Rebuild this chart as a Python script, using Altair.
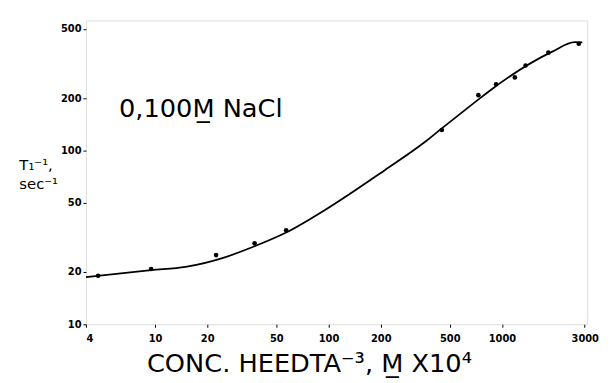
import altair as alt
import pandas as pd

# measured data points
pt_x = [4.7, 9.5, 22.5, 37.5, 57, 450, 731, 925, 1186, 1368, 1850, 2770]
pt_y = [19.0, 20.8, 25.0, 29.2, 34.7, 131, 208, 240, 263, 308, 365, 411]

# fitted curve
cv_x = [4, 9.5, 15, 25, 37.5, 57, 96, 211, 356, 450, 711, 889, 1950, 2630, 2900]
cv_y = [18.7, 20.5, 21.4, 24.2, 28.1, 33.7, 45.6, 77, 111, 134, 192, 228, 370, 420, 418]

x_ticks = [4, 10, 20, 50, 100, 200, 500, 1000, 3000]
y_ticks = [10, 20, 50, 100, 200, 500]

pts = pd.DataFrame({"x": pt_x, "y": pt_y})
crv = pd.DataFrame({"x": cv_x, "y": cv_y})

xs = alt.Scale(type="log", domain=[4, 3100], nice=False)
ys = alt.Scale(type="log", domain=[10, 560], nice=False)

FONT = "DejaVu Sans"

xenc = alt.X("x:Q", scale=xs, axis=alt.Axis(
    values=x_ticks, format="d", title="CONC. HEEDTA⁻³, M̲ X10⁴",
    titleFontSize=26, titleFontWeight="normal", titleFont=FONT, titleColor="black",
    titlePadding=8, titleX=226,
    labelFont=FONT, labelFontSize=10, labelFontWeight="bold", labelColor="black",
    tickColor="black", tickSize=3, domain=False, grid=False, labelPadding=6))
yenc = alt.Y("y:Q", scale=ys, axis=alt.Axis(
    values=y_ticks, format="d", title=["T₁⁻¹,", "sec⁻¹"], titleAngle=0,
    titleAlign="left", titleBaseline="middle", titleX=-68, titleY=146,
    titleFontSize=15, titleFontWeight="normal", titleFont=FONT, titleColor="black",
    titleLineHeight=19,
    labelFont=FONT, labelFontSize=10, labelFontWeight="bold", labelColor="black",
    tickColor="black", tickSize=3, domain=False, grid=False, labelPadding=2))

line = alt.Chart(crv).mark_line(color="black", strokeWidth=1.8, interpolate="monotone").encode(x=xenc, y=yenc)
points = alt.Chart(pts).mark_circle(color="black", size=22, opacity=1).encode(x="x:Q", y="y:Q")

label_df = pd.DataFrame({"x": [6.2], "y": [173], "t": ["0,100M̲ NaCl"]})
label = alt.Chart(label_df).mark_text(
    align="left", baseline="middle", fontSize=26, font=FONT, color="black"
).encode(x="x:Q", y="y:Q", text="t:N")

chart = alt.layer(line, points, label).properties(
    width=508, height=308,
    padding={"left": 79, "top": 10, "right": 17, "bottom": 57},
    autosize=alt.AutoSizeParams(type="none"),
).configure_view(stroke="black", strokeWidth=1.5).configure(background="white")

chart.save("out.html", embed_options={"renderer": "svg", "actions": False})
